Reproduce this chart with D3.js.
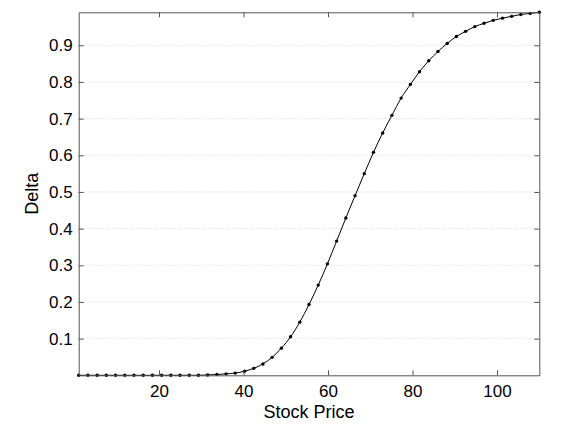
<!DOCTYPE html>
<html>
<head>
<meta charset="utf-8">
<script src="https://cdn.jsdelivr.net/npm/d3@7"></script>
<style>
  body { margin: 0; background: #fff; }
  text { font-family: "Liberation Sans", Arial, sans-serif; fill: #000; }
</style>
</head>
<body>
<svg id="chart" width="577" height="433"></svg>
<script>
// stock prices sampled along the x axis
var stockPrices = [1, 3.18, 5.36, 7.54, 9.72, 11.9, 14.08, 16.26, 18.44, 20.62,
  22.8, 24.98, 27.16, 29.34, 31.52, 33.7, 35.88, 38.06, 40.24, 42.42,
  44.6, 46.78, 48.96, 51.14, 53.32, 55.5, 57.68, 59.86, 62.04, 64.22,
  66.4, 68.58, 70.76, 72.94, 75.12, 77.3, 79.48, 81.66, 83.84, 86.02,
  88.2, 90.38, 92.56, 94.74, 96.92, 99.1, 101.28, 103.46, 105.64, 107.82, 110]

// delta
var deltas = [0, 0, 0, 0, 0, 0, 0, 0, 0, 0,
  0, 0, 0, 0, 0.001, 0.002, 0.004, 0.006, 0.011, 0.019,
  0.031, 0.049, 0.074, 0.105, 0.145, 0.193, 0.246, 0.304, 0.366, 0.429,
  0.490, 0.550, 0.608, 0.661, 0.709, 0.756, 0.793, 0.828, 0.858, 0.883,
  0.905, 0.924, 0.938, 0.951, 0.960, 0.968, 0.974, 0.979, 0.984, 0.987, 0.990]

var xTicks = [20, 40, 60, 80, 100]
var yTicks = [0.1, 0.2, 0.3, 0.4, 0.5, 0.6, 0.7, 0.8, 0.9]

var margin = { top: 12.3, right: 37.7, bottom: 57.7, left: 78.7 }
var width = 577 - margin.left - margin.right
var height = 433 - margin.top - margin.bottom

var svg = d3.select('#chart')
var g = svg.append('g')
  .attr('transform', 'translate(' + margin.left + ',' + margin.top + ')')

var x = d3.scaleLinear()
  .domain([d3.min(stockPrices), d3.max(stockPrices)])
  .range([0, width])
var y = d3.scaleLinear()
  .domain([0, d3.max(deltas)])
  .range([height, 0])

/**
 * Draws the dotted horizontal grid at each y tick.
 */
function drawGrid () {
  g.append('g')
    .selectAll('line')
    .data(yTicks)
    .enter()
    .append('line')
    .attr('x1', 0)
    .attr('x2', width)
    .attr('y1', function (d) { return y(d) })
    .attr('y2', function (d) { return y(d) })
    .attr('stroke', '#d4d4d4')
    .attr('stroke-dasharray', '1,2')
}

/**
 * Draws the four sides of the box with inward ticks.
 */
function drawAxes () {
  var bottom = g.append('g').attr('transform', 'translate(0,' + height + ')')
    .call(d3.axisBottom(x).tickValues(xTicks).tickSizeInner(-5).tickSizeOuter(0).tickPadding(10))
  var left = g.append('g')
    .call(d3.axisLeft(y).tickValues(yTicks).tickSizeInner(-5).tickSizeOuter(0).tickPadding(6))
  var top = g.append('g')
    .call(d3.axisTop(x).tickValues(xTicks).tickSizeInner(-5).tickSizeOuter(0).tickFormat(''))
  var right = g.append('g').attr('transform', 'translate(' + width + ',0)')
    .call(d3.axisRight(y).tickValues(yTicks).tickSizeInner(-5).tickSizeOuter(0).tickFormat(''))

  ;[bottom, left, top, right].forEach(function (a) {
    a.selectAll('.domain').attr('stroke', '#555')
    a.selectAll('.tick line').attr('stroke', '#555')
    a.selectAll('.tick text')
      .attr('font-size', 17)
      .attr('font-family', '"Liberation Sans", Arial, sans-serif')
      .attr('fill', '#000')
  })
}

/**
 * Draws the delta curve and its markers.
 */
function drawCurve () {
  var points = stockPrices.map(function (s, i) { return { s: s, d: deltas[i] } })

  var line = d3.line()
    .x(function (p) { return x(p.s) })
    .y(function (p) { return y(p.d) })
    .curve(d3.curveMonotoneX)

  g.append('path')
    .datum(points)
    .attr('d', line)
    .attr('fill', 'none')
    .attr('stroke', '#000')
    .attr('stroke-width', 1)

  g.append('g')
    .selectAll('circle')
    .data(points)
    .enter()
    .append('circle')
    .attr('cx', function (p) { return x(p.s) })
    .attr('cy', function (p) { return y(p.d) })
    .attr('r', 1.7)
    .attr('fill', '#000')
}

drawGrid()
drawCurve()
drawAxes()

// axis titles
svg.append('text')
  .attr('x', margin.left + width / 2)
  .attr('y', 417.5)
  .attr('text-anchor', 'middle')
  .attr('font-size', 18)
  .text('Stock Price')

svg.append('text')
  .attr('transform', 'translate(38,' + (margin.top + height / 2) + ') rotate(-90)')
  .attr('text-anchor', 'middle')
  .attr('font-size', 18)
  .text('Delta')
</script>
</body>
</html>
